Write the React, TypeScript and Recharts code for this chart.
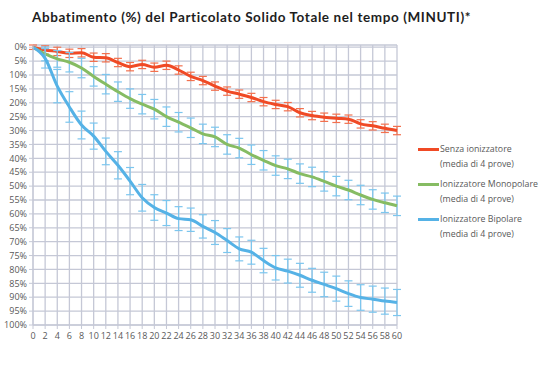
import {
  LineChart,
  Line,
  XAxis,
  YAxis,
  CartesianGrid,
  ErrorBar,
} from "recharts";

const minutes = [
  0, 2, 4, 6, 8, 10, 12, 14, 16, 18, 20, 22, 24, 26, 28, 30, 32, 34, 36, 38,
  40, 42, 44, 46, 48, 50, 52, 54, 56, 58, 60,
];
const percentTicks = [
  0, 5, 10, 15, 20, 25, 30, 35, 40, 45, 50, 55, 60, 65, 70, 75, 80, 85, 90, 95,
  100,
];

const senza = [
  0, 1, 1.5, 2.2, 2, 3.6, 3.8, 5.5, 7, 6.2, 7.2, 6.5, 8.2, 10.5, 12, 14, 15.8,
  16.9, 18.1, 19.6, 20.6, 21.4, 23.6, 24.6, 25.2, 25.6, 25.9, 27.6, 28.3, 29.2,
  30,
];
const monopolare = [
  0, 2.4, 4.2, 5.4, 7.5, 10.5, 13.3, 16, 18.5, 20.5, 22.3, 25, 27, 29, 31.2,
  32.3, 35, 36.3, 38.7, 40.7, 42.6, 43.8, 45.5, 46.7, 48.3, 50, 51.4, 53.2,
  54.8, 56, 57.1,
];
const bipolare = [
  0, 4, 14, 21.5, 28, 32, 37.5, 42.5, 48.2, 54.2, 57.7, 59.7, 61.7, 62.1, 64.5,
  66.7, 69.6, 72.6, 73.8, 76.8, 79.4, 80.6, 82.1, 83.9, 85.4, 86.9, 88.7, 90.1,
  90.7, 91.4, 91.9,
];

const senzaErr = [
  0.8, 1.5, 1.5, 1.5, 1.5, 1.5, 1.5, 1.5, 1.5, 1.5, 1.5, 1.5, 1.5, 1.5, 1.5,
  1.5, 1.5, 1.5, 1.5, 1.5, 1.5, 1.5, 1.5, 1.5, 1.5, 1.5, 1.5, 1.5, 1.5, 1.5,
  1.5,
];
const monopolareErr = [
  0, 2.5, 3, 3.5, 3.5, 3.5, 3.5, 3.5, 3.5, 3.5, 3.5, 3.5, 3.5, 3.5, 3.5, 3.5,
  3.5, 3.5, 3.5, 3.5, 3.5, 3.5, 3.5, 3.5, 3.5, 3.5, 3.5, 3.5, 3.5, 3.5, 3.5,
];
const bipolareErr = [
  0, 3.5, 6, 5.5, 5, 4.7, 4.8, 4.9, 4.9, 4.8, 4.6, 4.5, 4.3, 4.2, 4.2, 4.3, 4.3,
  4.3, 4.3, 4.4, 4.4, 4.3, 4.3, 4.3, 4.4, 4.5, 4.6, 4.6, 4.7, 4.7, 4.7,
];

const data = minutes.map((t, i) => ({
  t,
  senza: senza[i],
  monopolare: monopolare[i],
  bipolare: bipolare[i],
  senzaErr: senzaErr[i],
  monopolareErr: monopolareErr[i],
  bipolareErr: bipolareErr[i],
}));

const RED = "#F04A25";
const GREEN = "#86BC63";
const BLUE = "#55B2E6";
const BAR_BLUE = "#7CC6EE";

const legendItems = [
  { color: RED, label: "Senza ionizzatore" },
  { color: GREEN, label: "Ionizzatore Monopolare" },
  { color: BLUE, label: "Ionizzatore Bipolare" },
];

const tickStyle = { fill: "#595959", fontSize: 9, fontFamily: "Open Sans" };

export default function App() {
  return (
    <div
      style={{
        position: "absolute",
        left: 0,
        top: 0,
        width: 540,
        height: 366,
        background: "#fff",
      }}
    >
      <div
        style={{
          position: "absolute",
          left: 32,
          top: 9,
          fontFamily: "Lato",
          fontWeight: 700,
          fontSize: 13.5,
          letterSpacing: 0.6,
          color: "#1e1e1e",
          whiteSpace: "nowrap",
        }}
      >
        Abbatimento (%) del Particolato Solido Totale nel tempo (MINUTI)*
      </div>
      <LineChart
        width={540}
        height={366}
        data={data}
        margin={{ top: 45, right: 143, left: 0, bottom: 11 }}
      >
        <CartesianGrid stroke="#C5C8D6" strokeWidth={1.3} />
        <XAxis
          dataKey="t"
          type="number"
          domain={[0, 60]}
          ticks={minutes}
          interval={0}
          height={30}
          axisLine={{ stroke: "#C5C8D6" }}
          tickLine={{ stroke: "#C5C8D6" }}
          tickSize={4}
          tickMargin={4}
          tick={tickStyle}
        />
        <YAxis
          type="number"
          reversed
          domain={[0, 100]}
          ticks={percentTicks}
          interval={0}
          width={33}
          axisLine={{ stroke: "#C5C8D6" }}
          tickLine={{ stroke: "#C5C8D6" }}
          tickSize={4}
          tickMargin={2}
          tick={tickStyle}
          tickFormatter={(v: number) => `${v}%`}
        />
        <Line
          dataKey="senza"
          type="monotone"
          stroke={RED}
          strokeWidth={3}
          dot={false}
          isAnimationActive={false}
        >
          <ErrorBar dataKey="senzaErr" width={4} stroke="#F2714F" strokeWidth={1.2} direction="y" />
        </Line>
        <Line
          dataKey="monopolare"
          type="monotone"
          stroke={GREEN}
          strokeWidth={3}
          dot={false}
          isAnimationActive={false}
        >
          <ErrorBar dataKey="monopolareErr" width={4} stroke={BAR_BLUE} strokeWidth={1.2} direction="y" />
        </Line>
        <Line
          dataKey="bipolare"
          type="monotone"
          stroke={BLUE}
          strokeWidth={3}
          dot={false}
          isAnimationActive={false}
        >
          <ErrorBar dataKey="bipolareErr" width={4} stroke={BAR_BLUE} strokeWidth={1.2} direction="y" />
        </Line>
      </LineChart>
      <div
        style={{
          position: "absolute",
          left: 418,
          top: 141.5,
          width: 120,
          fontFamily: "Open Sans",
          fontSize: 8.8,
          color: "#595959",
          lineHeight: "15px",
          whiteSpace: "nowrap",
        }}
      >
        {legendItems.map((item) => (
          <div key={item.label} style={{ marginBottom: 5 }}>
            <div style={{ display: "flex", alignItems: "center" }}>
              <span
                style={{
                  display: "inline-block",
                  flex: "none",
                  width: 21,
                  height: 3,
                  background: item.color,
                  marginRight: 1,
                }}
              />
              <span>{item.label}</span>
            </div>
            <div style={{ paddingLeft: 22 }}>(media di 4 prove)</div>
          </div>
        ))}
      </div>
    </div>
  );
}
